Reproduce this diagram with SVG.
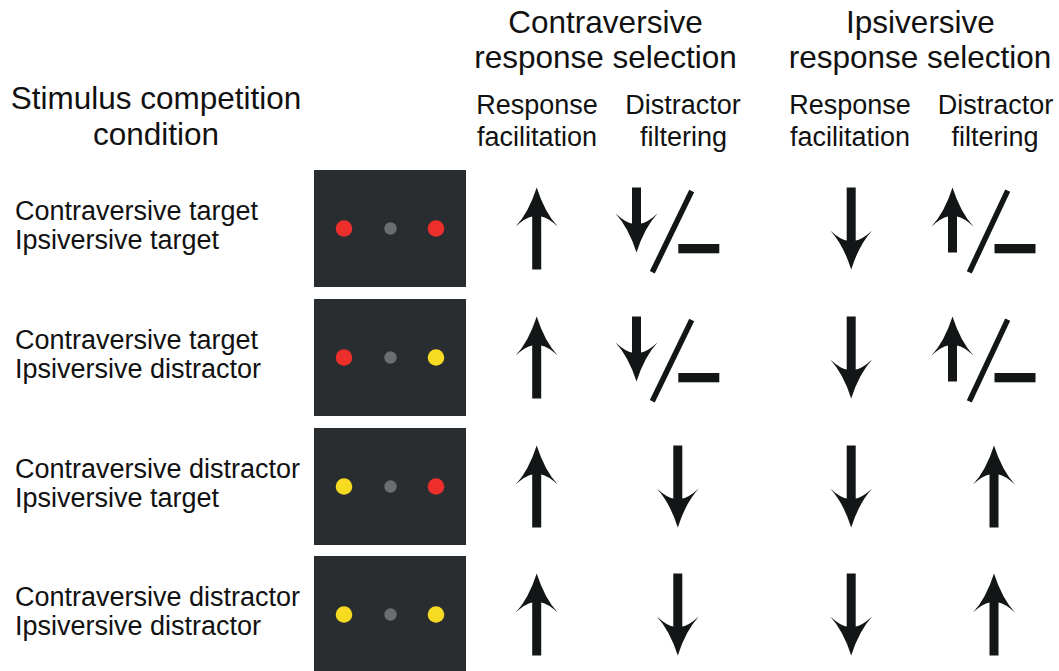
<svg xmlns="http://www.w3.org/2000/svg" xmlns:xlink="http://www.w3.org/1999/xlink" width="1059" height="671" viewBox="0 0 1059 671">
  <style>
    text { font-family: "Liberation Sans", Arial, Helvetica, sans-serif; fill: #111; }
    .h1 { font-size: 31.5px; text-anchor: middle; }
    .h2 { font-size: 27px; text-anchor: middle; }
    .lab { font-size: 27px; }
    .panel { fill: #2a2d30; }
    .red { fill: #ec2f2b; }
    .yel { fill: #f7db22; }
    .gry { fill: #6b6e6e; }
    .arw { fill: #121616; }
    .slash { stroke: #121616; stroke-width: 5.5; fill: none; }
  </style>
  <defs>
    <path id="arrowLong" class="arw" d="M0,0 Q-8,25 -21,39 Q-11,30 -4.5,29 L-4.5,82 L4.5,82 L4.5,29 Q11,30 21,39 Q8,25 0,0 Z"/>
    <path id="arrowShort" class="arw" d="M0,0 Q-8,25 -21,39 Q-11,30 -4.5,29 L-4.5,65 L4.5,65 L4.5,29 Q11,30 21,39 Q8,25 0,0 Z"/>
  </defs>
  <rect width="1059" height="671" fill="#ffffff"/>

  <g id="header-left">
    <text class="h1" x="156" y="109">Stimulus competition</text>
    <text class="h1" x="156" y="145">condition</text>
  </g>
  <g id="header-contra">
    <text class="h1" x="605.5" y="33">Contraversive</text>
    <text class="h1" x="605.5" y="68">response selection</text>
    <text class="h2" x="537" y="114">Response</text>
    <text class="h2" x="537" y="146">facilitation</text>
    <text class="h2" x="683" y="114">Distractor</text>
    <text class="h2" x="683.5" y="146">filtering</text>
  </g>
  <g id="header-ipsi">
    <text class="h1" x="920.5" y="33">Ipsiversive</text>
    <text class="h1" x="920" y="68">response selection</text>
    <text class="h2" x="850" y="114">Response</text>
    <text class="h2" x="850" y="146">facilitation</text>
    <text class="h2" x="995.5" y="114">Distractor</text>
    <text class="h2" x="995" y="146">filtering</text>
  </g>

  <g id="row1">
    <text class="lab" x="15" y="220">Contraversive target</text>
    <text class="lab" x="15" y="249">Ipsiversive target</text>
    <rect class="panel" x="314" y="170" width="152" height="117"/>
    <circle class="red" cx="344" cy="228.5" r="8.3"/>
    <circle class="gry" cx="390.5" cy="228.5" r="6.2"/>
    <circle class="red" cx="436" cy="228.5" r="8.3"/>
    <use xlink:href="#arrowLong" transform="translate(536.7,187.5)"/>
    <use xlink:href="#arrowShort" transform="translate(636.5,252.5) scale(1,-1)"/>
    <line class="slash" x1="691.7" y1="191" x2="652.3" y2="272.3"/>
    <rect class="arw" x="678.3" y="244" width="41" height="9.3"/>
    <use xlink:href="#arrowLong" transform="translate(851.2,269.5) scale(1,-1)"/>
    <use xlink:href="#arrowShort" transform="translate(952.5,187.5)"/>
    <line class="slash" x1="1007.7" y1="190.7" x2="969.3" y2="272.3"/>
    <rect class="arw" x="994.5" y="244" width="41" height="9.3"/>
  </g>

  <g id="row2" transform="translate(0,129)">
    <text class="lab" x="15" y="220">Contraversive target</text>
    <text class="lab" x="15" y="249">Ipsiversive distractor</text>
    <rect class="panel" x="314" y="170" width="152" height="117"/>
    <circle class="red" cx="344" cy="228.5" r="8.3"/>
    <circle class="gry" cx="390.5" cy="228.5" r="6.2"/>
    <circle class="yel" cx="436" cy="228.5" r="8.3"/>
    <use xlink:href="#arrowLong" transform="translate(536.7,187.5)"/>
    <use xlink:href="#arrowShort" transform="translate(636.5,252.5) scale(1,-1)"/>
    <line class="slash" x1="691.7" y1="191" x2="652.3" y2="272.3"/>
    <rect class="arw" x="678.3" y="244" width="41" height="9.3"/>
    <use xlink:href="#arrowLong" transform="translate(851.2,269.5) scale(1,-1)"/>
    <use xlink:href="#arrowShort" transform="translate(952.5,187.5)"/>
    <line class="slash" x1="1007.7" y1="190.7" x2="969.3" y2="272.3"/>
    <rect class="arw" x="994.5" y="244" width="41" height="9.3"/>
  </g>

  <g id="row3" transform="translate(0,258)">
    <text class="lab" x="15" y="220">Contraversive distractor</text>
    <text class="lab" x="15" y="249">Ipsiversive target</text>
    <rect class="panel" x="314" y="170" width="152" height="117"/>
    <circle class="yel" cx="344" cy="228.5" r="8.3"/>
    <circle class="gry" cx="390.5" cy="228.5" r="6.2"/>
    <circle class="red" cx="436" cy="228.5" r="8.3"/>
    <use xlink:href="#arrowLong" transform="translate(536.7,187.5)"/>
    <use xlink:href="#arrowLong" transform="translate(677.8,269.5) scale(1,-1)"/>
    <use xlink:href="#arrowLong" transform="translate(851.2,269.5) scale(1,-1)"/>
    <use xlink:href="#arrowLong" transform="translate(994,187.5)"/>
  </g>

  <g id="row4" transform="translate(0,386)">
    <text class="lab" x="15" y="220">Contraversive distractor</text>
    <text class="lab" x="15" y="249">Ipsiversive distractor</text>
    <rect class="panel" x="314" y="170" width="152" height="117"/>
    <circle class="yel" cx="344" cy="228.5" r="8.3"/>
    <circle class="gry" cx="390.5" cy="228.5" r="6.2"/>
    <circle class="yel" cx="436" cy="228.5" r="8.3"/>
    <use xlink:href="#arrowLong" transform="translate(536.7,187.5)"/>
    <use xlink:href="#arrowLong" transform="translate(677.8,269.5) scale(1,-1)"/>
    <use xlink:href="#arrowLong" transform="translate(851.2,269.5) scale(1,-1)"/>
    <use xlink:href="#arrowLong" transform="translate(994,187.5)"/>
  </g>

  <g id="connectors"/>
</svg>
